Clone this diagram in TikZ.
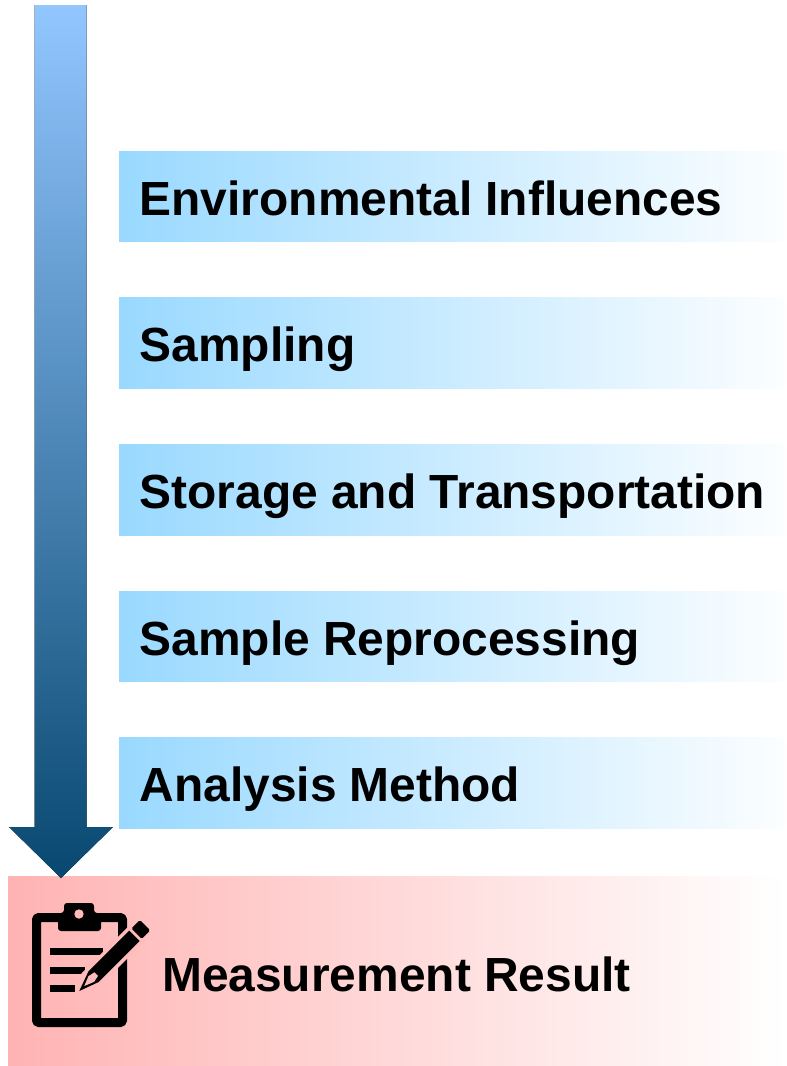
\documentclass[tikz,border=0pt]{standalone}
\usepackage{fontspec}
\setmainfont{Liberation Sans}
\definecolor{boxblue}{RGB}{153,217,255}
\definecolor{boxpink}{RGB}{255,179,179}
\definecolor{arrowtop}{RGB}{146,198,255}
\definecolor{arrowbot}{RGB}{8,72,112}
\definecolor{halo}{RGB}{255,187,187}
\tikzset{
  stepbox/.style={left color=boxblue,right color=white!97!boxblue,draw=none},
  resultbox/.style={left color=boxpink,right color=white,draw=none},
  label/.style={anchor=base west,inner sep=0pt,font=\bfseries\fontsize{47.9pt}{50pt}\selectfont},
  reslabel/.style={anchor=base west,inner sep=0pt,font=\bfseries\fontsize{47.9pt}{50pt}\selectfont},
  bigarrow/.style={top color=arrowtop,bottom color=arrowbot,draw=none},
}
\begin{document}
\begin{tikzpicture}[x=1pt,y=-1pt]
\useasboundingbox (0,0) rectangle (787,1066);
% boxes
\fill[stepbox] (119,151) rectangle (786,241.7);
\fill[stepbox] (119,297) rectangle (786,388.5);
\fill[stepbox] (119,444) rectangle (786,535.5);
\fill[stepbox] (119,591) rectangle (786,681.7);
\fill[stepbox] (119,737) rectangle (786,828.5);
\fill[resultbox] (8,876) rectangle (786,1066);
% arrow
\fill[bigarrow] (34.7,5) -- (86.7,5) -- (86.7,827) -- (113,827) -- (61,878) -- (9,827) -- (34.7,827) -- cycle;
% labels
\node[label] (env) at (139.5,215) {Environmental Influences};
\node[label] (sam) at (139.5,361.5) {Sampling};
\node[label] (sto) at (139.5,508.5) {Storage and Transportation};
\node[label] (rep) at (139.5,655) {Sample Reprocessing};
\node[label] (ana) at (139.5,801.5) {Analysis Method};
\node[reslabel] (res) at (162,991.5) {Measurement Result};
% clipboard icon
\draw[line width=9pt,line join=round,rounded corners=1.5pt] (36.5,917.5) rectangle (122.5,1022.5);
\fill[rounded corners=3pt] (58,931) -- (58,913) -- (64,913) -- (64,903) -- (94,903) -- (94,913) -- (101,913) -- (101,931) -- cycle;
\fill[halo] (79,914) circle (4.7pt);
\fill (50,948) rectangle (103,955);
\fill (50,967) rectangle (85,973.5);
\fill (50,985) rectangle (75,991.5);
\begin{scope}[shift={(79.3,991)},rotate=45]
  \fill[halo] (14,-11) -- (82,-11) -- (82,11) -- (14,11) -- cycle;
  \fill[halo] (-3,0) -- (14,-11) -- (14,11) -- cycle;
  \fill[line join=round] (0,0) -- (20,-7.3) -- (78,-7.3) -- (78,7.3) -- (20,7.3) -- cycle;
  \fill[halo] (7,0) -- (17,-4) -- (24,-2.5) -- (24,2.5) -- (17,4) -- cycle;
  \fill[rounded corners=1.5pt] (81,-7.3) rectangle (93,7.3);
\end{scope}
\end{tikzpicture}
\end{document}
